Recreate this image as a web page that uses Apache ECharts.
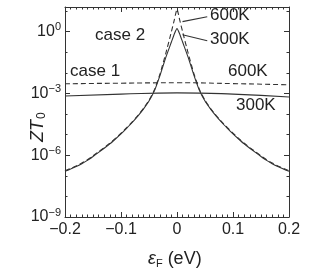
<!DOCTYPE html>
<html>
<head>
<meta charset="utf-8">
<script src="https://cdn.jsdelivr.net/npm/echarts@6/dist/echarts.min.js"></script>
<style>
	html, body { margin: 0; padding: 0; background: #fff; }
	#chart { width: 310px; height: 273px; }
</style>
</head>
<body>
<div id="chart"></div>
<script>
// 横轴 εF (eV)
const eF = [-0.2, -0.19, -0.18, -0.17, -0.16, -0.15, -0.14, -0.13, -0.12, -0.11, -0.1, -0.09, -0.08, -0.07, -0.06,
	-0.05, -0.04, -0.03, -0.02, -0.01, -0.005, 0, 0.005, 0.01, 0.02, 0.03, 0.04, 0.05, 0.06, 0.07, 0.08, 0.09, 0.1,
	0.11, 0.12, 0.13, 0.14, 0.15, 0.16, 0.17, 0.18, 0.19, 0.2];
// case 2 (log10 ZT0)
const case2_300K = [-6.78, -6.67, -6.55, -6.41, -6.25, -6.06, -5.86, -5.66, -5.45, -5.21, -4.96, -4.69, -4.41, -4.1, -3.76,
	-3.37, -2.85, -2.1, -1.25, -0.5, -0.12, 0.15, -0.12, -0.5, -1.25, -2.1, -2.85, -3.37, -3.76, -4.1, -4.41, -4.69, -4.96,
	-5.21, -5.45, -5.66, -5.86, -6.06, -6.25, -6.41, -6.55, -6.67, -6.78];
const case2_600K = [-6.75, -6.64, -6.52, -6.38, -6.22, -6.03, -5.83, -5.63, -5.42, -5.18, -4.93, -4.66, -4.38, -4.07, -3.73,
	-3.33, -2.8, -2.02, -1.05, 0.0, 0.55, 1.1, 0.55, 0.0, -1.05, -2.02, -2.8, -3.33, -3.73, -4.07, -4.38, -4.66, -4.93,
	-5.18, -5.42, -5.63, -5.83, -6.03, -6.22, -6.38, -6.52, -6.64, -6.75];
// case 1
const eF1 = [-0.2, -0.1, 0, 0.1, 0.2];
const case1_300K = [-3.12, -3.03, -2.97, -3.03, -3.17];
const case1_600K = [-2.53, -2.5, -2.48, -2.52, -2.58];
// 刻度
const xTicks = [-0.2, -0.1, 0, 0.1, 0.2];
const yTicks = [-9, -6, -3, 0];
// 引出线 (数据坐标)
const leader600 = [[0.0098, 0.49], [0.054, 0.73]];
const leader300 = [[0.0098, -0.15], [0.054, -0.44]];

const FONT = 'Liberation Sans, Arial, sans-serif';
const INK = '#333';

const pairs = (xs, ys) => xs.map((x, i) => [x, ys[i]]);
const minus = (s) => s.replace('-', '\u2212');

const chart = echarts.init(document.getElementById('chart'), null, { renderer: 'canvas' });

const axisCommon = {
	axisLine: { show: true, onZero: false, lineStyle: { color: INK, width: 1 } },
	axisTick: { show: true, inside: true, length: 5, lineStyle: { color: INK } },
	minorTick: { show: true, length: 2.5, lineStyle: { color: INK } },
	splitLine: { show: false },
};

const lineSeries = (data, dashed, smooth) => ({
	type: 'line',
	data: data,
	showSymbol: false,
	smooth: smooth,
	lineStyle: { color: INK, width: 1.1, type: dashed ? [5, 3] : 'solid' },
	silent: true,
	animation: false,
});

const option = {
	animation: false,
	grid: { left: 65, right: 21, top: 7, bottom: 56 },
	xAxis: [
		{
			...axisCommon,
			type: 'value',
			min: -0.2,
			max: 0.2,
			interval: 0.1,
			minorTick: { ...axisCommon.minorTick, splitNumber: 10 },
			axisLabel: {
				color: '#222',
				fontFamily: FONT,
				fontSize: 16,
				margin: 5,
				formatter: (v) => {
					const t = xTicks.find((k) => Math.abs(k - v) < 1e-9);
					if (t === undefined) return '';
					return t === 0 ? '0' : minus(t.toFixed(1));
				},
			},
		},
		{
			...axisCommon,
			type: 'value',
			position: 'top',
			min: -0.2,
			max: 0.2,
			interval: 0.1,
			minorTick: { ...axisCommon.minorTick, splitNumber: 10 },
			axisLabel: { show: false },
		},
	],
	yAxis: [
		{
			...axisCommon,
			type: 'value',
			min: -9,
			max: 1.2,
			interval: 3,
			minorTick: { ...axisCommon.minorTick, splitNumber: 3 },
			axisLabel: {
				color: '#222',
				fontFamily: FONT,
				margin: 4,
				formatter: (v) => {
					if (!yTicks.includes(v)) return '';
					return `{b|10}{s|${minus(String(v))}}`;
				},
				rich: {
					b: { fontFamily: FONT, fontSize: 16, color: '#222' },
					s: { fontFamily: FONT, fontSize: 11, color: '#222', padding: [0, 0, 9, 0] },
				},
			},
		},
		{
			...axisCommon,
			type: 'value',
			position: 'right',
			min: -9,
			max: 1.2,
			interval: 3,
			minorTick: { ...axisCommon.minorTick, splitNumber: 3 },
			axisLabel: { show: false },
		},
	],
	series: [
		lineSeries(pairs(eF, case2_300K), false, 0.15),
		lineSeries(pairs(eF, case2_600K), true, 0.15),
		lineSeries(pairs(eF1, case1_300K), false, true),
		lineSeries(pairs(eF1, case1_600K), true, true),
		lineSeries(leader600, false, false),
		lineSeries(leader300, false, false),
	],
	graphic: [
		{ type: 'text', left: 95, top: 27, style: { text: 'case 2', font: `17px ${FONT}`, fill: '#222' } },
		{ type: 'text', left: 70, top: 63, style: { text: 'case 1', font: `17px ${FONT}`, fill: '#222' } },
		{ type: 'text', left: 210, top: 7, style: { text: '600K', font: `17px ${FONT}`, fill: '#222' } },
		{ type: 'text', left: 210, top: 31, style: { text: '300K', font: `17px ${FONT}`, fill: '#222' } },
		{ type: 'text', left: 228, top: 63, style: { text: '600K', font: `17px ${FONT}`, fill: '#222' } },
		{ type: 'text', left: 236, top: 97, style: { text: '300K', font: `17px ${FONT}`, fill: '#222' } },
		// 纵轴标题 ZT0
		{
			type: 'text',
			x: 28,
			y: 142,
			rotation: Math.PI / 2,
			style: {
				text: '{i|ZT}{s|0}',
				rich: {
					i: { font: `italic 18px ${FONT}`, fill: '#222' },
					s: { font: `12px ${FONT}`, fill: '#222', padding: [8, 0, 0, 1] },
				},
				verticalAlign: 'top',
			},
		},
		// 横轴标题 εF (eV)
		{
			type: 'text',
			left: 148,
			top: 250,
			style: {
				text: '{i|ε}{s|F}{n| (eV)}',
				rich: {
					i: { font: `italic 18px ${FONT}`, fill: '#222' },
					s: { font: `11px ${FONT}`, fill: '#222', padding: [9, 0, 0, 0] },
					n: { font: `18px ${FONT}`, fill: '#222' },
				},
			},
		},
	],
};

chart.setOption(option);
</script>
</body>
</html>
